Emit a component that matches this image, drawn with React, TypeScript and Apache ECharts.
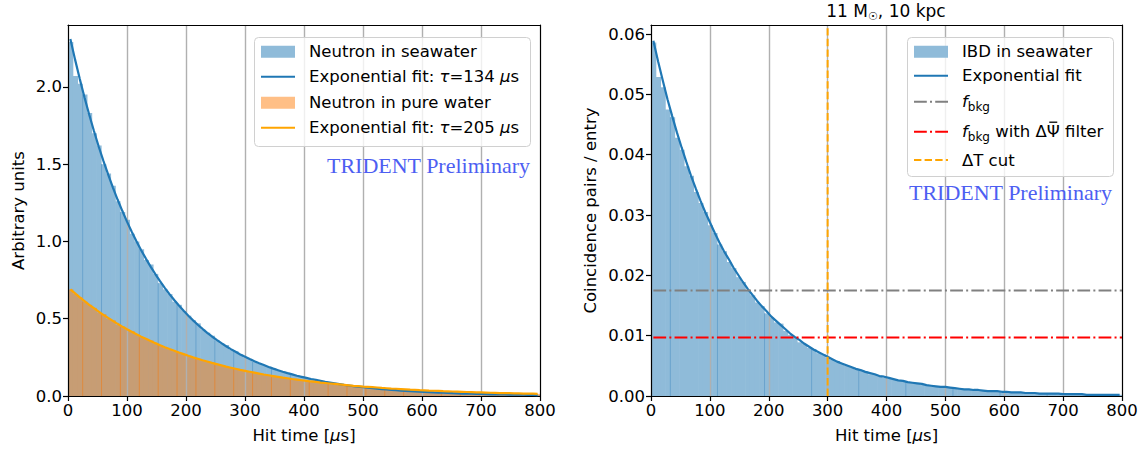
import React, { useEffect, useRef } from 'react';
import * as echarts from 'echarts';

const X_TICKS = [0, 100, 200, 300, 400, 500, 600, 700, 800];
const Y_TICKS_LEFT = [0, 0.5, 1.0, 1.5, 2.0];
const Y_TICKS_RIGHT = [0, 0.01, 0.02, 0.03, 0.04, 0.05, 0.06];
const BIN_WIDTH = 8;

// Left panel: neutron capture time histograms (100 bins of 8 us)
const SEA_HIST = [
  2.29, 2.07, 2.02, 1.95, 1.83, 1.70, 1.62, 1.50, 1.44, 1.36,
  1.26, 1.19, 1.14, 1.05, 1.00, 0.95, 0.88, 0.85, 0.79, 0.73,
  0.69, 0.66, 0.61, 0.59, 0.55, 0.52, 0.49, 0.47, 0.43, 0.41,
  0.39, 0.36, 0.34, 0.33, 0.30, 0.29, 0.27, 0.25, 0.24, 0.22,
  0.21, 0.20, 0.19, 0.18, 0.165, 0.158, 0.150, 0.138, 0.132, 0.125,
  0.116, 0.111, 0.103, 0.099, 0.091, 0.088, 0.081, 0.078, 0.071, 0.069,
  0.064, 0.060, 0.058, 0.053, 0.051, 0.048, 0.046, 0.041, 0.040, 0.038,
  0.036, 0.033, 0.031, 0.029, 0.028, 0.027, 0.024, 0.023, 0.022, 0.021,
  0.019, 0.018, 0.017, 0.016, 0.015, 0.015, 0.014, 0.013, 0.012, 0.011,
  0.011, 0.010, 0.010, 0.009, 0.008, 0.008, 0.008, 0.007, 0.007, 0.006,
];
const SEA_FIT = [
  2.310, 2.176, 2.050, 1.931, 1.819, 1.714, 1.614, 1.521, 1.433, 1.350,
  1.271, 1.198, 1.128, 1.063, 1.001, 0.943, 0.889, 0.837, 0.789, 0.743,
  0.700, 0.659, 0.621, 0.585, 0.551, 0.519, 0.489, 0.461, 0.434, 0.409,
  0.385, 0.363, 0.342, 0.322, 0.303, 0.286, 0.269, 0.254, 0.239, 0.225,
  0.212, 0.200, 0.188, 0.177, 0.167, 0.157, 0.148, 0.140, 0.131, 0.124,
  0.117, 0.110, 0.104, 0.098, 0.092, 0.087, 0.082, 0.077, 0.072, 0.068,
  0.064, 0.061, 0.057, 0.054, 0.051, 0.048, 0.045, 0.042, 0.040, 0.038,
  0.035, 0.033, 0.031, 0.030, 0.028, 0.026, 0.025, 0.023, 0.022, 0.021,
  0.020, 0.018, 0.017, 0.016, 0.015, 0.015, 0.014, 0.013, 0.012, 0.011,
  0.011, 0.010, 0.010, 0.009, 0.008, 0.008, 0.008, 0.007, 0.007, 0.006,
];
const PURE_HIST = [
  0.69, 0.66, 0.64, 0.61, 0.59, 0.57, 0.54, 0.53, 0.50, 0.49,
  0.46, 0.45, 0.43, 0.42, 0.40, 0.38, 0.37, 0.36, 0.34, 0.33,
  0.31, 0.30, 0.29, 0.28, 0.27, 0.26, 0.25, 0.24, 0.23, 0.22,
  0.215, 0.205, 0.197, 0.190, 0.183, 0.175, 0.170, 0.162, 0.157, 0.150,
  0.145, 0.140, 0.133, 0.130, 0.124, 0.119, 0.114, 0.110, 0.106, 0.102,
  0.098, 0.094, 0.091, 0.087, 0.084, 0.081, 0.078, 0.075, 0.072, 0.069,
  0.066, 0.064, 0.061, 0.059, 0.057, 0.055, 0.052, 0.050, 0.048, 0.047,
  0.045, 0.043, 0.041, 0.040, 0.038, 0.037, 0.035, 0.034, 0.033, 0.031,
  0.030, 0.029, 0.028, 0.027, 0.026, 0.025, 0.024, 0.023, 0.022, 0.021,
  0.020, 0.019, 0.019, 0.018, 0.017, 0.017, 0.016, 0.015, 0.015, 0.014,
];
const PURE_FIT = [
  0.690, 0.664, 0.638, 0.614, 0.590, 0.568, 0.546, 0.525, 0.505, 0.486,
  0.467, 0.449, 0.432, 0.416, 0.400, 0.384, 0.370, 0.356, 0.342, 0.329,
  0.316, 0.304, 0.293, 0.281, 0.271, 0.260, 0.250, 0.241, 0.231, 0.223,
  0.214, 0.206, 0.198, 0.190, 0.183, 0.176, 0.169, 0.163, 0.157, 0.151,
  0.145, 0.139, 0.134, 0.129, 0.124, 0.119, 0.115, 0.110, 0.106, 0.102,
  0.098, 0.094, 0.091, 0.087, 0.084, 0.081, 0.078, 0.075, 0.072, 0.069,
  0.066, 0.064, 0.061, 0.059, 0.057, 0.055, 0.052, 0.050, 0.048, 0.047,
  0.045, 0.043, 0.041, 0.040, 0.038, 0.037, 0.035, 0.034, 0.033, 0.031,
  0.030, 0.029, 0.028, 0.027, 0.026, 0.025, 0.024, 0.023, 0.022, 0.021,
  0.020, 0.019, 0.019, 0.018, 0.017, 0.017, 0.016, 0.015, 0.015, 0.014,
];

// Right panel: IBD coincidence time histogram
const IBD_HIST = [
  0.0586, 0.0529, 0.0512, 0.0475, 0.0462, 0.0428, 0.0408, 0.0381, 0.0365, 0.0338,
  0.0320, 0.0305, 0.0283, 0.0270, 0.0251, 0.0240, 0.0222, 0.0212, 0.0197, 0.0189,
  0.0175, 0.0167, 0.0155, 0.0149, 0.0137, 0.0130, 0.0122, 0.0120, 0.0108, 0.0101,
  0.0098, 0.0089, 0.0086, 0.0080, 0.0078, 0.0071, 0.0069, 0.0063, 0.0060, 0.0058,
  0.0053, 0.0050, 0.0048, 0.0044, 0.0042, 0.0041, 0.0036, 0.0035, 0.0034, 0.0030,
  0.0029, 0.0028, 0.0026, 0.0025, 0.0023, 0.0022, 0.0021, 0.0019, 0.0018, 0.0017,
  0.0016, 0.0015, 0.0014, 0.0014, 0.0013, 0.0012, 0.0011, 0.0011, 0.0010, 0.0010,
  0.0009, 0.0008, 0.0008, 0.0008, 0.0007, 0.0007, 0.0006, 0.0006, 0.0006, 0.0005,
  0.0005, 0.0005, 0.0004, 0.0004, 0.0004, 0.0004, 0.0003, 0.0003, 0.0003, 0.0003,
  0.0003, 0.0003, 0.0002, 0.0002, 0.0002, 0.0002, 0.0002, 0.0002, 0.0002, 0.0002,
];
const IBD_FIT = [
  0.0589, 0.0555, 0.0523, 0.0492, 0.0464, 0.0437, 0.0412, 0.0388, 0.0365, 0.0344,
  0.0324, 0.0305, 0.0288, 0.0271, 0.0255, 0.0240, 0.0227, 0.0213, 0.0201, 0.0189,
  0.0178, 0.0168, 0.0158, 0.0149, 0.0141, 0.0132, 0.0125, 0.0118, 0.0111, 0.0104,
  0.0098, 0.0093, 0.0087, 0.0082, 0.0077, 0.0073, 0.0069, 0.0065, 0.0061, 0.0057,
  0.0054, 0.0051, 0.0048, 0.0045, 0.0043, 0.0040, 0.0038, 0.0036, 0.0033, 0.0032,
  0.0030, 0.0028, 0.0026, 0.0025, 0.0023, 0.0022, 0.0021, 0.0020, 0.0018, 0.0017,
  0.0016, 0.0015, 0.0015, 0.0014, 0.0013, 0.0012, 0.0011, 0.0011, 0.0010, 0.0010,
  0.0009, 0.0008, 0.0008, 0.0008, 0.0007, 0.0007, 0.0006, 0.0006, 0.0006, 0.0005,
  0.0005, 0.0005, 0.0004, 0.0004, 0.0004, 0.0004, 0.0004, 0.0003, 0.0003, 0.0003,
  0.0003, 0.0003, 0.0002, 0.0002, 0.0002, 0.0002, 0.0002, 0.0002, 0.0002, 0.0002,
];
const F_BKG = 0.0175;
const F_BKG_FILTER = 0.0097;
const DT_CUT = 300;
const BKG_LINE_RANGE = [4, 800];

const FONT = 'DejaVu Sans';
const FS = 16.5;
const BLUE = '#1f77b4';
const BLUE_SOLID = '#8fbbd9';
const ORANGE_SOLID = '#ffbf86';
const OVERLAP_SOLID = '#c79d74';
const BLUE_SEAM = '#6aa3cd';
const ORANGE_SEAM = '#de8a3e';
const ORANGE = '#ffa500';
const WATERMARK = '#4d5ef2';

// single-layer opaque histogram; seamEvery/seamOffset imitate the faint bar edges of the raster original
function histSeries(values: number[], gi: number, seamEvery: number, seamOffset: number) {
  return {
    type: 'custom',
    xAxisIndex: gi,
    yAxisIndex: gi,
    silent: true,
    z: 2,
    data: values.map((v, i) => [i * BIN_WIDTH, (i + 1) * BIN_WIDTH, v, i]),
    encode: { x: [0, 1], y: 2 },
    renderItem: (params: any, api: any) => {
      const a = api.coord([api.value(0), api.value(2)]);
      const b = api.coord([api.value(1), 0]);
      const children: any[] = [
        {
          type: 'rect',
          shape: { x: a[0], y: a[1], width: b[0] - a[0] + 0.6, height: b[1] - a[1] },
          style: { fill: BLUE_SOLID },
        },
      ];
      if (api.value(3) % seamEvery === seamOffset) {
        children.push({
          type: 'line',
          shape: { x1: a[0] + 0.5, y1: a[1], x2: a[0] + 0.5, y2: b[1] },
          style: { stroke: BLUE_SEAM, lineWidth: 1 },
        });
      }
      return { type: 'group', children };
    },
  };
}

// overlaid (pure water) histogram, blended with the seawater histogram below it
function overlayHistSeries(values: number[], under: number[], gi: number) {
  return {
    type: 'custom',
    xAxisIndex: gi,
    yAxisIndex: gi,
    silent: true,
    z: 2,
    data: values.map((v, i) => [i * BIN_WIDTH, (i + 1) * BIN_WIDTH, v, under[i], i]),
    encode: { x: [0, 1], y: 2 },
    renderItem: (params: any, api: any) => {
      const v = api.value(2);
      const u = api.value(3);
      const low = Math.min(v, u);
      const a = api.coord([api.value(0), low]);
      const b = api.coord([api.value(1), 0]);
      const children: any[] = [
        {
          type: 'rect',
          shape: { x: a[0], y: a[1], width: b[0] - a[0] + 0.6, height: b[1] - a[1] },
          style: { fill: OVERLAP_SOLID },
        },
      ];
      if (v > u) {
        const t = api.coord([api.value(0), v]);
        children.push({
          type: 'rect',
          shape: { x: t[0], y: t[1], width: b[0] - a[0] + 0.6, height: a[1] - t[1] },
          style: { fill: ORANGE_SOLID },
        });
      }
      if (api.value(4) % 4 === 3) {
        children.push({
          type: 'line',
          shape: { x1: a[0] + 0.5, y1: api.coord([0, v])[1], x2: a[0] + 0.5, y2: b[1] },
          style: { stroke: ORANGE_SEAM, lineWidth: 1 },
        });
      }
      return { type: 'group', children };
    },
  };
}

function fitSeries(values: number[], gi: number, color: string) {
  return {
    type: 'line',
    xAxisIndex: gi,
    yAxisIndex: gi,
    silent: true,
    showSymbol: false,
    symbol: 'none',
    z: 4,
    data: values.map((v, i) => [i * BIN_WIDTH + BIN_WIDTH / 2, v]),
    lineStyle: { color, width: 2.2 },
  };
}

function refLine(points: number[][], color: string, dash: number[]) {
  return {
    type: 'line',
    xAxisIndex: 1,
    yAxisIndex: 1,
    silent: true,
    showSymbol: false,
    symbol: 'none',
    data: points,
    lineStyle: { color, width: 2, type: dash },
    z: 5,
  };
}

const labelStyle = { color: '#000', fontSize: FS, fontFamily: FONT };
const richI = { i: { fontStyle: 'italic', fontSize: FS, fontFamily: FONT, color: '#000' } };

function xAxisFor(gi: number) {
  return {
    type: 'value',
    gridIndex: gi,
    min: X_TICKS[0],
    max: X_TICKS[X_TICKS.length - 1],
    interval: 100,
    z: 3,
    axisLine: { show: true, onZero: false, lineStyle: { color: '#000', width: 1.2 } },
    axisTick: { show: true, length: 5, lineStyle: { color: '#000', width: 1.2 } },
    axisLabel: { ...labelStyle, margin: 6, showMinLabel: true, showMaxLabel: true },
    splitLine: { show: true, showMinLine: false, showMaxLine: false, lineStyle: { color: '#b0b0b0', width: 1.4 } },
    name: 'Hit time [{i|\u03bc}s]',
    nameLocation: 'middle',
    nameGap: 31,
    nameTextStyle: { ...labelStyle, rich: richI },
  };
}

function frameX(gi: number) {
  return {
    type: 'value', gridIndex: gi, position: 'top', min: 0, max: 800, z: 6,
    axisLine: { show: true, onZero: false, lineStyle: { color: '#000', width: 1.2 } },
    axisTick: { show: false }, axisLabel: { show: false }, splitLine: { show: false },
  };
}

function yAxisFor(gi: number, max: number, ticks: number[], digits: number, name: string, gap: number) {
  return {
    type: 'value',
    gridIndex: gi,
    min: 0,
    max,
    z: 6,
    axisLine: { show: true, onZero: false, lineStyle: { color: '#000', width: 1.2 } },
    axisTick: { show: true, length: 5, customValues: ticks, lineStyle: { color: '#000', width: 1.2 } },
    axisLabel: { ...labelStyle, margin: 6, customValues: ticks, formatter: (v: number) => v.toFixed(digits) },
    splitLine: { show: false },
    name,
    nameLocation: 'middle',
    nameGap: gap,
    nameTextStyle: { ...labelStyle },
  };
}

function frameY(gi: number, max: number) {
  return {
    type: 'value', gridIndex: gi, position: 'right', min: 0, max, z: 6,
    axisLine: { show: true, onZero: false, lineStyle: { color: '#000', width: 1.2 } },
    axisTick: { show: false }, axisLabel: { show: false }, splitLine: { show: false },
  };
}

function legendText(x: number, y: number, text: string) {
  return {
    type: 'text',
    z: 101,
    style: {
      x, y, text,
      fill: '#000',
      fontSize: FS,
      fontFamily: FONT,
      verticalAlign: 'middle',
      align: 'left',
      lineHeight: 22,
      rich: {
        i: { fontStyle: 'italic', fontSize: FS, fontFamily: FONT, lineHeight: 22, verticalAlign: 'middle' },
        s: { fontSize: 12, fontFamily: FONT, lineHeight: 22, verticalAlign: 'bottom' },
        n: { fontSize: FS, fontFamily: FONT, lineHeight: 22, verticalAlign: 'middle' },
      },
    },
  };
}

function patch(x: number, y: number, fill: string) {
  return { type: 'rect', z: 101, shape: { x, y: y - 6, width: 34, height: 12 }, style: { fill } };
}

function handleLine(x: number, y: number, stroke: string, dash?: number[]) {
  return {
    type: 'line', z: 101,
    shape: { x1: x, y1: y, x2: x + 34, y2: y },
    style: { stroke, lineWidth: 2, lineDash: dash || null },
  };
}

function measure(text: string, font: string) {
  const ctx = document.createElement('canvas').getContext('2d');
  if (!ctx) return text.length * 9;
  ctx.font = font;
  return ctx.measureText(text).width;
}

export default function App() {
  const ref = useRef<HTMLDivElement>(null);
  useEffect(() => {
    if (!ref.current) return;
    const chart = echarts.init(ref.current, undefined, { renderer: 'svg' });
    const LY = [51.7, 76.7, 102.7, 127.7];
    const RY = [51.7, 75.7, 101.7, 131.7, 160];
    const RX = 962;
    const psiX =
      RX +
      measure('f', `italic ${FS}px ${FONT}`) +
      measure('bkg', `12px ${FONT}`) +
      measure(' with \u0394', `${FS}px ${FONT}`);
    const psiW = measure('\u03a8', `${FS}px ${FONT}`);
    const option: any = {
      animation: false,
      backgroundColor: '#fff',
      grid: [
        { left: 68, top: 25, width: 472, height: 371, show: false },
        { left: 651, top: 25, width: 471, height: 371, show: false },
      ],
      xAxis: [xAxisFor(0), xAxisFor(1), frameX(0), frameX(1)],
      yAxis: [
        yAxisFor(0, 2.4, Y_TICKS_LEFT, 1, 'Arbitrary units', 41),
        yAxisFor(1, 0.0615, Y_TICKS_RIGHT, 2, 'Coincidence pairs / entry', 52),
        frameY(0, 2.4),
        frameY(1, 0.0615),
      ],
      series: [
        histSeries(SEA_HIST, 0, 4, 3),
        overlayHistSeries(PURE_HIST, SEA_HIST, 0),
        fitSeries(SEA_FIT, 0, BLUE),
        fitSeries(PURE_FIT, 0, ORANGE),
        histSeries(IBD_HIST, 1, 10, 4),
        fitSeries(IBD_FIT, 1, BLUE),
        refLine([[BKG_LINE_RANGE[0], F_BKG], [BKG_LINE_RANGE[1], F_BKG]], '#808080', [12.8, 3.2, 2, 3.2]),
        refLine([[BKG_LINE_RANGE[0], F_BKG_FILTER], [BKG_LINE_RANGE[1], F_BKG_FILTER]], '#ff0000', [12.8, 3.2, 2, 3.2]),
        refLine([[DT_CUT, 0], [DT_CUT, 0.0615]], ORANGE, [7.4, 3.2]),
      ],
      graphic: [
        {
          type: 'text', z: 101,
          style: {
            x: 886, y: 11, text: '11 M{s|\u2609}, 10 kpc', fill: '#000', fontSize: FS + 0.5, fontFamily: FONT,
            align: 'center', verticalAlign: 'middle', lineHeight: 22,
            rich: { s: { fontSize: 11, fontFamily: FONT, lineHeight: 22, verticalAlign: 'bottom' } },
          },
        },
        {
          type: 'rect', z: 100,
          shape: { x: 254.5, y: 37.5, width: 276, height: 109, r: 4 },
          style: { fill: 'rgba(255,255,255,0.8)', stroke: '#d0d0d0', lineWidth: 1 },
        },
        patch(261, LY[0], BLUE_SOLID),
        legendText(309, LY[0], 'Neutron in seawater'),
        handleLine(261, LY[1], BLUE),
        legendText(309, LY[1], 'Exponential fit: {i|\u03c4}=134 {i|\u03bc}s'),
        patch(261, LY[2], ORANGE_SOLID),
        legendText(309, LY[2], 'Neutron in pure water'),
        handleLine(261, LY[3], ORANGE),
        legendText(309, LY[3], 'Exponential fit: {i|\u03c4}=205 {i|\u03bc}s'),
        {
          type: 'text', z: 101,
          style: {
            x: 530, y: 165, text: 'TRIDENT Preliminary', fill: WATERMARK, fontSize: 22,
            fontFamily: 'Liberation Serif', align: 'right', verticalAlign: 'middle',
          },
        },
        {
          type: 'rect', z: 100,
          shape: { x: 907.5, y: 37.5, width: 206, height: 139, r: 4 },
          style: { fill: 'rgba(255,255,255,0.8)', stroke: '#d0d0d0', lineWidth: 1 },
        },
        patch(914, RY[0], BLUE_SOLID),
        legendText(RX, RY[0], 'IBD in seawater'),
        handleLine(914, RY[1], BLUE),
        legendText(RX, RY[1], 'Exponential fit'),
        handleLine(914, RY[2], '#808080', [12.8, 3.2, 2, 3.2]),
        legendText(RX, RY[2], '{i|f}{s|bkg}'),
        handleLine(914, RY[3], '#ff0000', [12.8, 3.2, 2, 3.2]),
        legendText(RX, RY[3], '{i|f}{s|bkg}{n| with \u0394\u03a8 filter}'),
        {
          type: 'line', z: 102,
          shape: { x1: psiX + 2.5, y1: RY[3] - 9.5, x2: psiX + psiW - 2.5, y2: RY[3] - 9.5 },
          style: { stroke: '#000', lineWidth: 1.3 },
        },
        handleLine(914, RY[4], ORANGE, [7.4, 3.2]),
        legendText(RX, RY[4], '\u0394T cut'),
        {
          type: 'text', z: 101,
          style: {
            x: 1112, y: 192, text: 'TRIDENT Preliminary', fill: WATERMARK, fontSize: 22,
            fontFamily: 'Liberation Serif', align: 'right', verticalAlign: 'middle',
          },
        },
      ],
    };
    chart.setOption(option);
    return () => chart.dispose();
  }, []);
  return <div ref={ref} style={{ width: 1148, height: 455, position: 'absolute', left: 0, top: 0 }} />;
}
